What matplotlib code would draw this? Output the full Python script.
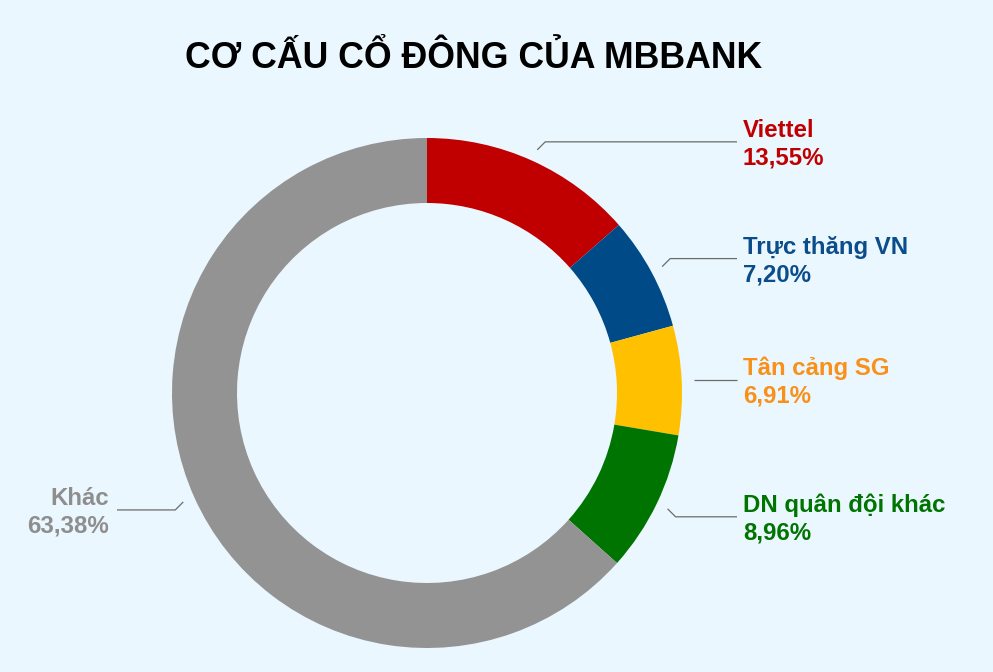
import numpy as np
import matplotlib
matplotlib.use("Agg")
import matplotlib.pyplot as plt

plt.rcParams['font.family'] = ['Liberation Sans', 'DejaVu Sans']

# dữ liệu cơ cấu cổ đông
names = ['Viettel', 'Trực thăng VN', 'Tân cảng SG', 'DN quân đội khác', 'Khác']
shares = [13.55, 7.20, 6.91, 8.96, 63.38]
share_labels = ['13,55%', '7,20%', '6,91%', '8,96%', '63,38%']

slice_colors = ['#C00000', '#004A87', '#FFC000', '#007400', '#939393']
text_colors = ['#C00000', '#0B4D8A', '#F8901A', '#007400', '#8E8E8E']
bg = '#EBF7FE'

W, H, dpi = 993, 672, 100
cx, cy, R = 427, 393, 255  # tâm và bán kính (pixel)

fig = plt.figure(figsize=(W / dpi, H / dpi), dpi=dpi, facecolor=bg)
ax = fig.add_axes([0, 0, 1, 1])
ax.set_facecolor(bg)

ax.pie(shares, radius=1, startangle=90, counterclock=False,
       colors=slice_colors, wedgeprops=dict(width=65 / R, linewidth=0))

ax.set_xlim(-cx / R, (W - cx) / R)
ax.set_ylim(-(H - cy) / R, cy / R)
ax.set_aspect('auto')
ax.axis('off')

# đường dẫn nhãn
px = 1 / R
cum = np.cumsum([0] + shares[:-1])
for i, (name, lab) in enumerate(zip(names, share_labels)):
    mid = np.deg2rad((cum[i] + shares[i] / 2) * 3.6)
    sx, sy = 1.047 * np.sin(mid), 1.047 * np.cos(mid)
    side = 1 if sx > 0 else -1
    if abs(np.cos(mid)) > 0.2:
        d = 8 * px
        ey = sy + d * np.sign(sy)
        ex = sx + d * side
    else:
        ey, ex = sy, sx
    end_x = 310 * px * side
    ax.plot([sx, ex, end_x], [sy, ey, ey], color='#6B6B6B', lw=0.9,
            solid_capstyle='butt')
    tx = end_x + 6 * px * side if side > 0 else end_x - 8 * px
    ha = 'left' if side > 0 else 'right'
    ax.text(tx, ey + 5 * px, name, color=text_colors[i], fontsize=17.3,
            fontweight='bold', ha=ha, va='baseline')
    ax.text(tx, ey - 23 * px, lab, color=text_colors[i], fontsize=17.3,
            fontweight='bold', ha=ha, va='baseline')

fig.text(474 / W, 1 - 58 / H, 'CƠ CẤU CỔ ĐÔNG CỦA MBBANK', fontsize=25.7,
         fontweight='bold', color='black', ha='center', va='center')

fig.savefig('out.png', dpi=dpi, facecolor=bg)
